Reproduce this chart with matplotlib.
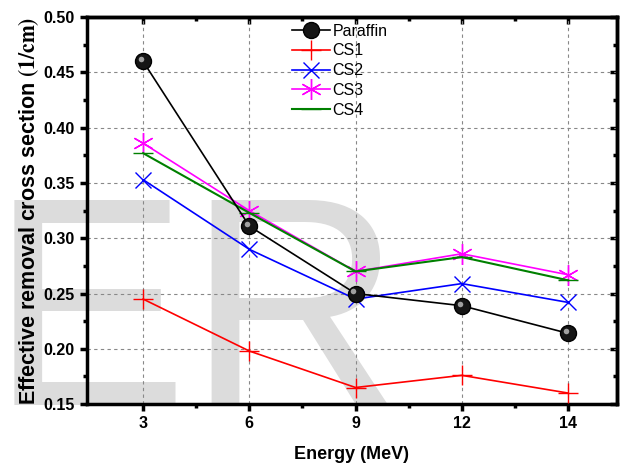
import numpy as np
import matplotlib.pyplot as plt
from matplotlib.transforms import ScaledTranslation

plt.rcParams['font.family'] = ['Liberation Sans', 'DejaVu Sans']
plt.rcParams['mathtext.fontset'] = 'stix'

# datos
energias = ['3', '6', '9', '12', '14']
paraffin = [0.460, 0.311, 0.250, 0.239, 0.214]
cs1 = [0.245, 0.198, 0.165, 0.176, 0.160]
cs2 = [0.353, 0.290, 0.245, 0.259, 0.242]
cs3 = [0.386, 0.325, 0.270, 0.286, 0.267]
cs4 = [0.377, 0.323, 0.270, 0.283, 0.262]


def plot():
    fig = plt.figure(figsize=(6.2, 4.65), dpi=100)
    ax = fig.add_axes([0.140, 0.131, 0.855, 0.832])
    ax.set_facecolor('none')
    x = np.arange(len(energias))

    # marca de agua al fondo
    fig.text(-0.016, 0.130, 'ER', fontsize=214, color='#dcdcdc',
             family='Liberation Sans', zorder=-10)

    ax.plot(x, paraffin, '-', color='black', lw=1.2, marker='o', ms=11.5,
            mfc='#151515', mec='black', label='Paraffin', zorder=5)
    # brillo de la esfera
    brillo = ax.transData + ScaledTranslation(-1.5/72, 1.5/72, fig.dpi_scale_trans)
    ax.plot(x, paraffin, 'o', ms=4, color='#a0a0a0', mec='none', zorder=6,
            transform=brillo)
    ax.plot(x, cs1, '-', color='red', lw=1.2, marker='+', ms=15, mew=1,
            label='CS1', zorder=4)
    ax.plot(x, cs2, '-', color='blue', lw=1.2, marker='x', ms=12, mew=1,
            label='CS2', zorder=4)
    ax.plot(x, cs3, '-', color='magenta', lw=1.2, marker=(6, 2, 0), ms=15, mew=1,
            label='CS3', zorder=4)
    ax.plot(x, cs4, '-', color='green', lw=1.5, marker='_', ms=14, mew=1,
            label='CS4', zorder=4)

    ax.set_xlim(-0.53, 4.46)
    ax.set_ylim(0.15, 0.50)
    ax.set_xticks(x)
    ax.set_xticklabels(energias)
    ax.set_xticks(x[:-1] + 0.5, minor=True)
    ax.set_yticks(np.arange(0.15, 0.501, 0.05))
    ax.set_yticks(np.arange(0.175, 0.5, 0.05), minor=True)
    ax.yaxis.set_major_formatter(plt.FormatStrFormatter('%.2f'))
    ax.grid(True, which='major', ls=(0, (3, 3)), color='#888888', lw=0.8)

    ax.tick_params(which='both', direction='out', width=2.5, labelsize=11.5)
    ax.tick_params(which='major', length=5)
    ax.tick_params(which='minor', length=3)
    for lbl in ax.get_xticklabels() + ax.get_yticklabels():
        lbl.set_fontweight('bold')
    for s in ax.spines.values():
        s.set_linewidth(2.5)

    # ticks hacia adentro arriba y a la derecha
    top = ax.secondary_xaxis('top')
    top.set_xticks(x)
    top.set_xticks(x[:-1] + 0.5, minor=True)
    top.tick_params(which='both', direction='in', width=2.5, labeltop=False)
    top.tick_params(which='major', length=5)
    top.tick_params(which='minor', length=3)
    top.spines['top'].set_linewidth(2.5)
    der = ax.secondary_yaxis('right')
    der.set_yticks(np.arange(0.15, 0.501, 0.05))
    der.set_yticks(np.arange(0.175, 0.5, 0.05), minor=True)
    der.tick_params(which='both', direction='in', width=2.5, labelright=False)
    der.tick_params(which='major', length=5)
    der.tick_params(which='minor', length=3)
    der.spines['right'].set_linewidth(2.5)

    ax.set_xlabel('Energy (MeV)', fontsize=13, fontweight='bold', labelpad=11)
    ax.set_ylabel(r'Effective removal cross section $\mathbf{(1/cm)}$',
                  fontsize=15.5, fontweight='bold', labelpad=2)

    ax.legend(loc='upper left', bbox_to_anchor=(0.375, 1.0), frameon=False,
              fontsize=11.5, handlelength=2.4, handletextpad=0.15,
              labelspacing=0.3, borderaxespad=0.0)

    fig.savefig('out.png', dpi=100)


if __name__ == "__main__":
    plot()
